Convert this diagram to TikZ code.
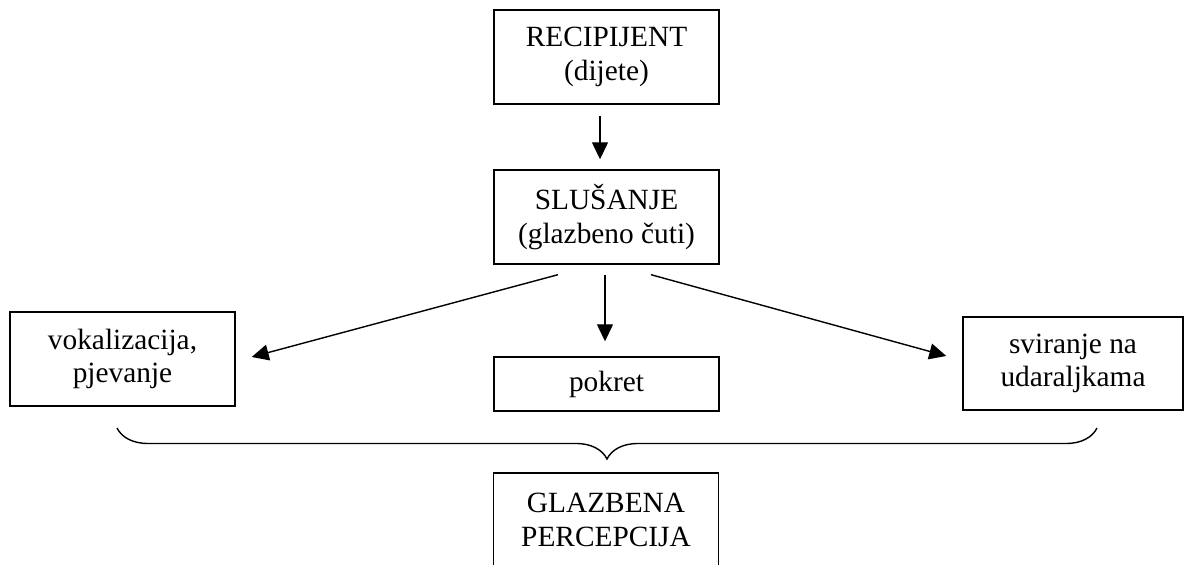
\documentclass[tikz,border=0pt]{standalone}
\usepackage{fontspec}
\setmainfont{Liberation Serif}
\usetikzlibrary{arrows.meta,decorations.pathreplacing}

\begin{document}
\begin{tikzpicture}[
    box/.style={draw, line width=0.8pt, inner sep=0, align=center, minimum width=4.5cm, minimum height=1.88cm, font=\fontsize{16.7}{19}\selectfont},
    >={Triangle[length=0.34cm, width=0.32cm]},
    line width=0.8pt]
    \useasboundingbox (0, 0) rectangle (23.7, -11.3);

    \node[box] (recip) at (12.13, -1.14) {RECIPIJENT\\(dijete)};
    \node[box] (slus) at (12.13, -4.34) {SLUŠANJE\\(glazbeno čuti)};
    \node[box] (voka) at (2.45, -7.18) {vokalizacija,\\pjevanje};
    \node[box, minimum height=1.08cm] (pokret) at (12.13, -7.68) {pokret};
    \node[box, minimum width=4.4cm, minimum height=1.86cm] (svir) at (21.46, -7.27) {sviranje na\\udaraljkama};
    \node[box] (percep) at (12.12, -10.4) {GLAZBENA\\PERCEPCIJA};

    \coordinate (bl) at (2.34, -8.56);
    \coordinate (br) at (21.94, -8.56);

    \draw[->] ([xshift=-0.13cm, yshift=-0.22cm]recip.south) -- ([xshift=-0.13cm, yshift=0.2cm]slus.north);
    \draw[->] ([xshift=-0.03cm, yshift=-0.2cm]slus.south) -- ([xshift=-0.03cm, yshift=0.3cm]pokret.north);
    \draw[->] ([xshift=-0.97cm, yshift=-0.2cm]slus.south) -- ([xshift=0.32cm, yshift=0.04cm]voka.east);
    \draw[->] ([xshift=0.89cm, yshift=-0.2cm]slus.south) -- ([xshift=-0.32cm, yshift=0.15cm]svir.west);

    \draw[decorate, decoration={brace, amplitude=0.62cm}] (br) -- (bl);
\end{tikzpicture}
\end{document}
